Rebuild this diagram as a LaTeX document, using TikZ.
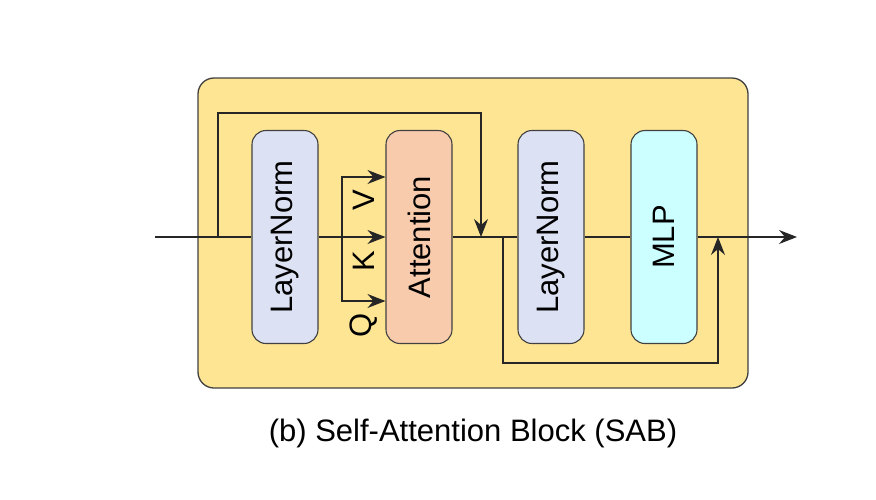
\documentclass[tikz,border=0pt]{standalone}
\usepackage{fontspec}
\setmainfont{Liberation Sans}
\usetikzlibrary{arrows.meta}

\tikzset{
    blq/.style={draw=black!75, line width=1.1pt, rounded corners=14pt, minimum width=66pt, minimum height=213pt, inner sep=0pt},
    lin/.style={line width=1.1pt, black!85},
    flc/.style={lin, -{Stealth[length=18pt,width=14pt,inset=6pt]}}
}

\begin{document}
\begin{tikzpicture}[x=1pt,y=-1pt]
        %colores
        \definecolor{fondo}{RGB}{254,229,148}
        \definecolor{lnorm}{RGB}{220,225,243}
        \definecolor{atn}{RGB}{248,203,173}
        \definecolor{mlpc}{RGB}{204,255,255}
        \newcommand{\etq}[1]{\fontsize{31}{36}\selectfont\rotatebox{90}{#1}}

        \useasboundingbox (0,0) rectangle (876,499);

        % Bloque exterior
        \draw[draw=black!75, line width=1.3pt, fill=fondo, rounded corners=16pt] (198,78) rectangle (748,388);

        % Bloques
        \node[blq, fill=lnorm] (ln1) at (285,237) {\etq{LayerNorm}};
        \node[blq, fill=atn]   (att) at (419,237) {\etq{Attention}};
        \node[blq, fill=lnorm] (ln2) at (551,237) {\etq{LayerNorm}};
        \node[blq, fill=mlpc]  (mlp) at (664,237) {\etq{MLP}};

        % Puntos de la linea principal
        \coordinate (in)  at (155,237);
        \coordinate (out) at (797,237);
        \coordinate (s1)  at (218,237);
        \coordinate (j1)  at (481,237);
        \coordinate (s2)  at (503,237);
        \coordinate (j2)  at (718,237);
        \coordinate (qkv) at (342,237);
        \coordinate (top) at (0,113);
        \coordinate (bot) at (0,363);

        % Linea principal
        \draw[lin] (in) -- (ln1.west);
        \draw[flc] (ln1.east) -- (att.west);
        \draw[lin] (att.east) -- (ln2.west);
        \draw[lin] (ln2.east) -- (mlp.west);
        \draw[flc] (mlp.east) -- (out);

        % Q, K, V
        \draw[flc] (qkv) |- ([yshift=60pt]att.west);
        \draw[flc] (qkv) |- ([yshift=-64pt]att.west);
        \node[font=\fontsize{31}{36}\selectfont, rotate=90] (v) at (364,200) {V};
        \node[font=\fontsize{31}{36}\selectfont, rotate=90] (k) at (364,261) {K};
        \node[font=\fontsize{31}{36}\selectfont, rotate=90] (q) at (364,325) {Q};

        % Conexiones residuales
        \draw[flc] (s1) -- (s1 |- top) -- (top -| j1) -- (j1);
        \draw[flc] (s2) -- (s2 |- bot) -- (bot -| j2) -- (j2);

        % Titulo
        \node[font=\fontsize{31}{36}\selectfont] (tit) at (473,433) {(b) Self-Attention Block (SAB)};
\end{tikzpicture}
\end{document}
